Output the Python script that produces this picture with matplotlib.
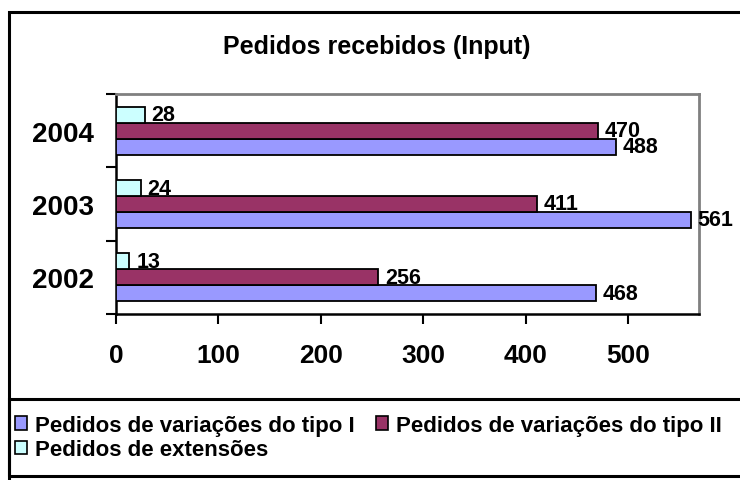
import matplotlib
matplotlib.use("Agg")
import matplotlib.pyplot as plt
from matplotlib.patches import Rectangle, Patch
import numpy as np

plt.rcParams['font.family'] = ['Liberation Sans', 'DejaVu Sans']
plt.rcParams['font.weight'] = 'bold'

# data
years = ['2002', '2003', '2004']
series_names = ['Pedidos de variações do tipo I',
                'Pedidos de variações do tipo II',
                'Pedidos de extensões']
tipo_i = [468, 561, 488]
tipo_ii = [256, 411, 470]
extensoes = [13, 24, 28]
x_ticks = [0, 100, 200, 300, 400, 500]

colors = ['#9999FF', '#993366', '#CCFFFF']
W, H = 740, 481

fig = plt.figure(figsize=(W / 100, H / 100), dpi=100)
fig.patch.set_facecolor('white')

# plot area in pixel coords of the reference
left, right, top, bottom = 116, 699, 95, 315
ax = fig.add_axes([left / W, 1 - bottom / H, (right - left) / W, (bottom - top) / H])

y = np.arange(len(years))
bh = 0.218
for i, (vals, col) in enumerate(zip([tipo_i, tipo_ii, extensoes], colors)):
    bars = ax.barh(y + (i - 1) * bh, vals, height=bh, color=col,
                   edgecolor='black', linewidth=1.3, zorder=3)
    ax.bar_label(bars, labels=[str(v) for v in vals], padding=5,
                 fontsize=15.5, fontweight='bold', color='black')

ax.set_xlim(0, 569)
ax.set_ylim(-0.5, 2.5)
ax.set_xticks(x_ticks)
ax.set_xticklabels([str(t) for t in x_ticks], fontsize=19, fontweight='bold')
ax.tick_params(axis='x', direction='out', length=7, width=1.5, pad=14)

ax.set_yticks([-0.5, 0.5, 1.5, 2.5])
ax.set_yticklabels([])
ax.set_yticks(y, minor=True)
ax.set_yticklabels(years, minor=True, fontsize=20, fontweight='bold')
ax.tick_params(axis='y', which='major', direction='out', length=7, width=1.5)
ax.tick_params(axis='y', which='minor', length=0, pad=16)

for s in ['left', 'bottom']:
    ax.spines[s].set_color('black')
    ax.spines[s].set_linewidth(1.8)
for s in ['top', 'right']:
    ax.spines[s].set_color('#808080')
    ax.spines[s].set_linewidth(2)

# chart frame and legend box
fig.add_artist(Rectangle((9 / W, -0.2), 1.2, 1 - 13 / H + 0.2,
                         transform=fig.transFigure, fill=False,
                         edgecolor='black', linewidth=2.2))
fig.add_artist(Rectangle((9 / W, 1 - 477 / H), 1.2, (477 - 400) / H,
                         transform=fig.transFigure, fill=False,
                         edgecolor='black', linewidth=2.2))

fig.text(377 / W, 1 - 54 / H, 'Pedidos recebidos (Input)', ha='center',
         va='baseline', fontsize=18, fontweight='bold')

handles = [Patch(facecolor=c, edgecolor='black', linewidth=1.2) for c in colors]
order = [0, 2, 1]
fig.legend([handles[i] for i in order], [series_names[i] for i in order],
           ncol=2, loc='upper left', bbox_to_anchor=(15 / W, 1 - 416 / H),
           frameon=False, handlelength=0.55, handleheight=0.55,
           handletextpad=0.35, columnspacing=0.95, labelspacing=0.15,
           borderpad=0, borderaxespad=0, prop={'weight': 'bold', 'size': 16})

fig.savefig('out.png', dpi=100)
